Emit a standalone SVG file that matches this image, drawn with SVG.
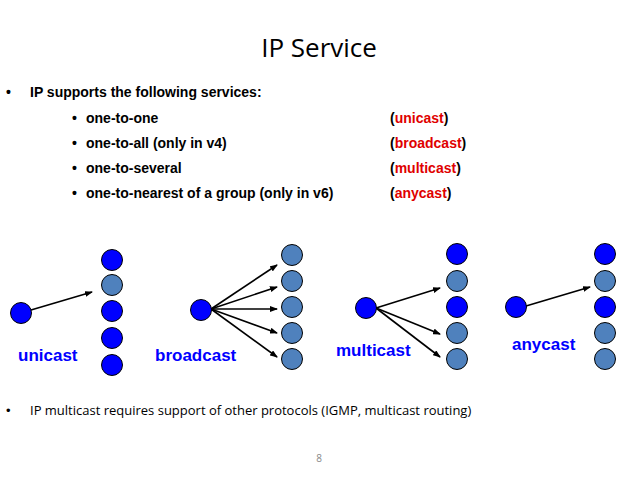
<svg xmlns="http://www.w3.org/2000/svg" width="638" height="479" viewBox="0 0 638 479">
<style>
.b{font-family:"Liberation Sans",Arial,sans-serif;font-size:14px;font-weight:bold;fill:#000}
.r{fill:#e00000}
.lbl{font-family:"Liberation Sans",Arial,sans-serif;font-size:17px;font-weight:bold;fill:#0000ff}
.blue{fill:#0000ff;stroke:#000;stroke-width:1}
.gray{fill:#4f81bd;stroke:#000;stroke-width:1}
.ln{stroke:#000;stroke-width:1.6;fill:none;marker-end:url(#ah)}
</style>
<defs><marker id="ah" markerWidth="8" markerHeight="6" refX="7" refY="3" orient="auto" markerUnits="userSpaceOnUse"><path d="M0,0L8,3L0,6z" fill="#000"/></marker></defs>
<rect width="638" height="479" fill="#fff"/>
<text x="319" y="57" text-anchor="middle" font-family="'Open Sans',sans-serif" font-size="26">IP Service</text>
<text x="6" y="97" class="b" font-weight="normal">•</text>
<text x="30" y="97" class="b">IP supports the following services:</text>
<g class="b">
<text x="72" y="123">•</text><text x="86" y="123">one-to-one</text><text x="390" y="123">(<tspan class="r">unicast</tspan>)</text>
<text x="72" y="148">•</text><text x="86" y="148">one-to-all (only in v4)</text><text x="390" y="148">(<tspan class="r">broadcast</tspan>)</text>
<text x="72" y="173">•</text><text x="86" y="173">one-to-several</text><text x="390" y="173">(<tspan class="r">multicast</tspan>)</text>
<text x="72" y="198">•</text><text x="86" y="198">one-to-nearest of a group (only in v6)</text><text x="390" y="198">(<tspan class="r">anycast</tspan>)</text>
</g>
<g id="connectors">
<line class="ln" x1="31" y1="310" x2="92" y2="292"/>
<line class="ln" x1="211" y1="309" x2="277" y2="265"/>
<line class="ln" x1="211" y1="309" x2="277" y2="287"/>
<line class="ln" x1="211" y1="309" x2="277" y2="309"/>
<line class="ln" x1="211" y1="309" x2="277" y2="333"/>
<line class="ln" x1="211" y1="309" x2="277" y2="357"/>
<line class="ln" x1="376" y1="308" x2="440" y2="288"/>
<line class="ln" x1="376" y1="308" x2="440" y2="334"/>
<line class="ln" x1="376" y1="308" x2="440" y2="357"/>
<line class="ln" x1="526" y1="306" x2="590" y2="287"/>
</g>
<g id="unicast">
<circle class="blue" cx="21" cy="313" r="10.5"/>
<circle class="blue" cx="112" cy="260" r="10.5"/><circle class="gray" cx="112" cy="285" r="10.5"/><circle class="blue" cx="112" cy="311" r="10.5"/><circle class="blue" cx="112" cy="338" r="10.5"/><circle class="blue" cx="112" cy="365" r="10.5"/>
<text class="lbl" x="18" y="361">unicast</text>
</g>
<g id="broadcast">
<circle class="blue" cx="201" cy="310" r="10.5"/>
<circle class="gray" cx="292" cy="255" r="10.5"/><circle class="gray" cx="292" cy="281" r="10.5"/><circle class="gray" cx="292" cy="307" r="10.5"/><circle class="gray" cx="292" cy="333" r="10.5"/><circle class="gray" cx="292" cy="359" r="10.5"/>
<text class="lbl" x="155" y="361">broadcast</text>
</g>
<g id="multicast">
<circle class="blue" cx="366" cy="308" r="10.5"/>
<circle class="blue" cx="457" cy="254" r="10.5"/><circle class="gray" cx="457" cy="281" r="10.5"/><circle class="blue" cx="457" cy="307" r="10.5"/><circle class="gray" cx="457" cy="333" r="10.5"/><circle class="gray" cx="457" cy="359" r="10.5"/>
<text class="lbl" x="336" y="356">multicast</text>
</g>
<g id="anycast">
<circle class="blue" cx="516" cy="307" r="10.5"/>
<circle class="blue" cx="605" cy="254" r="10.5"/><circle class="gray" cx="605" cy="281" r="10.5"/><circle class="blue" cx="605" cy="307" r="10.5"/><circle class="gray" cx="605" cy="333" r="10.5"/><circle class="gray" cx="605" cy="359" r="10.5"/>
<text class="lbl" x="512" y="350">anycast</text>
</g>
<text x="6" y="415" font-family="'Liberation Sans',sans-serif" font-size="13">•</text>
<text x="30" y="415" font-family="'Open Sans',sans-serif" font-size="13">IP multicast requires support of other protocols (IGMP, multicast routing)</text>
<text x="319" y="462" text-anchor="middle" font-family="'Open Sans',sans-serif" font-size="10" fill="#888">8</text>
</svg>
